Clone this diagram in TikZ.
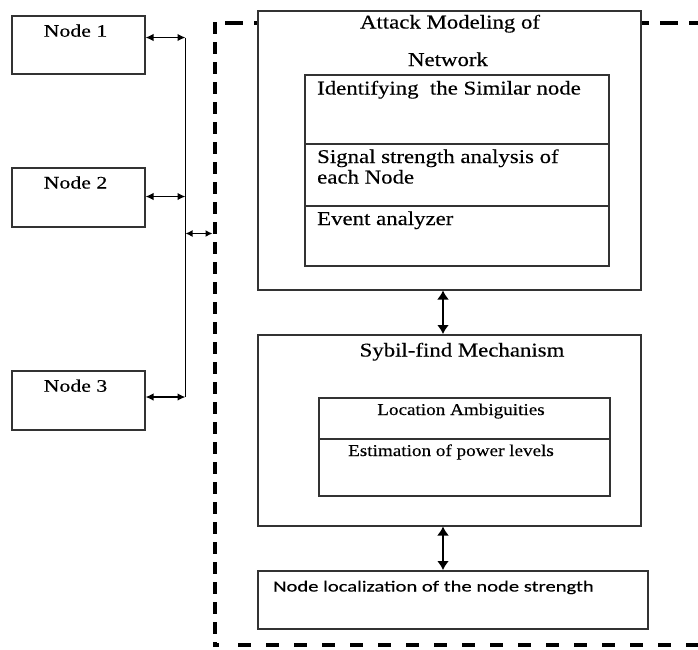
\documentclass[tikz,border=0pt]{standalone}
\usepackage{fontspec}
\setmainfont{Liberation Serif}
\newfontfamily\titlefont[FakeStretch=1.17,FakeBold=0.3]{Liberation Serif}
\newfontfamily\nodefont[FakeStretch=1.24,FakeBold=0.3]{Liberation Serif}
\newfontfamily\smallfont[FakeStretch=1.16,FakeBold=0.3]{Liberation Serif}
\newfontfamily\sansfont[FakeStretch=1.33,FakeBold=0.3]{Carlito}
\usetikzlibrary{arrows.meta,calc}
\begin{document}
\begin{tikzpicture}[x=1pt,y=-1pt,
  box/.style={draw=black!80, line width=1.5pt, fill=white, inner sep=0pt, anchor=north west},
  ttl/.style={inner sep=0pt, anchor=base, font=\titlefont\fontsize{19.5}{21}\selectfont},
  ttlw/.style={inner sep=0pt, anchor=base west, font=\titlefont\fontsize{19.5}{21}\selectfont},
  nlbl/.style={inner sep=0pt, anchor=base, font=\nodefont\fontsize{17.6}{19}\selectfont},
  sml/.style={inner sep=0pt, anchor=base, font=\smallfont\fontsize{16.5}{18}\selectfont},
  snsl/.style={inner sep=0pt, anchor=base west, font=\sansfont\fontsize{15.5}{17}\selectfont},
  dbl/.style={line width=1.5pt, {Latex[length=8pt,width=7.5pt]}-{Latex[length=8pt,width=7.5pt]}},
  bigdbl/.style={line width=2.8pt, {Latex[length=9pt,width=12pt]}-{Latex[length=9pt,width=12pt]}},
  bus/.style={line width=1.5pt},
  frame/.style={line width=4.5pt}
]
\clip (0,0) rectangle (698,649);
\fill[white] (0,0) rectangle (698,649);

% dashed frame
\coordinate (ftl) at (215,22);
\coordinate (fbl) at (215,645);
\coordinate (ftr) at (705,22.5);
\coordinate (fbr) at (705,645);
\draw[frame, dash pattern=on 12pt off 8pt] (ftl) -- (fbl);
\draw[frame, line width=4pt, dash pattern=on 18pt off 11pt] ($(ftl)+(10,0.5)$) -- (ftr);
\draw[frame, line width=4pt] ($(fbl)+(-2,0)$) -- ($(fbl)+(4,0)$);
\draw[frame, line width=4pt, dash pattern=on 13pt off 15pt] ($(fbl)+(23,0)$) -- (fbr);

% left nodes
\node[box, minimum width=133pt, minimum height=58pt] (n1) at (11,15) {};
\node[box, minimum width=133pt, minimum height=59pt] (n2) at (11,167) {};
\node[box, minimum width=133pt, minimum height=59pt] (n3) at (11,370) {};
\node[nlbl] (t1) at (75.5,36.7) {Node 1};
\node[nlbl] (t2) at (75.5,188.5) {Node 2};
\node[nlbl] (t3) at (75.5,391.7) {Node 3};

% bus
\coordinate (b1) at (185.5,37.5);
\coordinate (b2) at (185.5,196.5);
\coordinate (b3) at (185.5,397);
\coordinate (bm) at (185.5,233.5);
\coordinate (dm) at (212.5,233.5);
\draw[bus] (b1) -- (b3);
\draw[dbl] (b1 -| n1.east) -- (b1);
\draw[dbl] (b2 -| n2.east) -- (b2);
\draw[dbl] (b3 -| n3.east) -- (b3);
\draw[dbl, {Latex[length=7pt,width=7pt]}-{Latex[length=7pt,width=7pt]}] (bm) -- (dm);

% attack modeling box
\node[box, minimum width=383pt, minimum height=279pt] (att) at (257,10) {};
\node[ttl] (att1) at (450,28.5) {Attack Modeling of};
\node[ttl] (att2) at (448,66) {Network};
\node[box, minimum width=304pt, minimum height=69pt] (r1) at (304,74) {};
\node[box, minimum width=304pt, minimum height=62pt] (r2) at (304,143) {};
\node[box, minimum width=304pt, minimum height=60pt] (r3) at (304,205) {};
\node[ttlw] (r1t) at (317,94.5) {Identifying\ \ the Similar node};
\node[ttlw] (r2t) at (317,163) {Signal strength analysis of};
\node[ttlw] (r2u) at (317,183.5) {each Node};
\node[ttlw] (r3t) at (317,225) {Event analyzer};

% sybil box
\node[box, minimum width=383pt, minimum height=191pt] (syb) at (257,334) {};
\node[ttl] (sybt) at (462,356.5) {Sybil-find Mechanism};
\node[box, minimum width=291pt, minimum height=41pt] (s1) at (318,397) {};
\node[box, minimum width=291pt, minimum height=57pt] (s2) at (318,438) {};
\node[sml] (s1t) at (461,415) {Location Ambiguities};
\node[sml] (s2t) at (451,456) {Estimation of power levels};

% localization box
\node[box, minimum width=390pt, minimum height=58pt] (loc) at (257,570) {};
\node[snsl] (loct) at (273,591.5) {Node localization of the node strength};

% vertical arrows
\coordinate (ax) at (443,0);
\draw[bigdbl] (att.south -| ax) -- (syb.north -| ax);
\draw[bigdbl] (syb.south -| ax) -- (loc.north -| ax);
\end{tikzpicture}
\end{document}
